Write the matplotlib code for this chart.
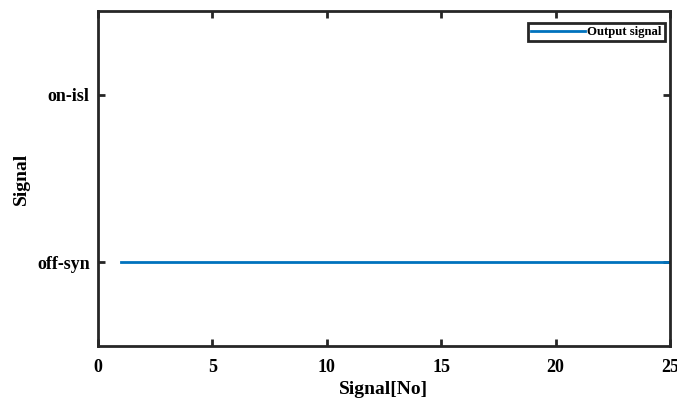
import matplotlib.pyplot as plt

# output signal state per sample (1 = off-syn, 2 = on-isl)
samples = [1, 2, 3, 4, 5, 6, 7, 8, 9, 10, 11, 12, 13, 14, 15, 16, 17, 18, 19, 20, 21, 22, 23, 24, 25]
states = [1, 1, 1, 1, 1, 1, 1, 1, 1, 1, 1, 1, 1, 1, 1, 1, 1, 1, 1, 1, 1, 1, 1, 1, 1]
state_ticks = [1, 2]
state_labels = ['off-syn', 'on-isl']
x_ticks = [0, 5, 10, 15, 20, 25]

plt.rcParams['font.family'] = ['Liberation Serif', 'DejaVu Serif']
plt.rcParams['font.weight'] = 'bold'

fig = plt.figure(figsize=(6.77, 4.03), dpi=100)
ax = fig.add_axes([98 / 677, 1 - 346 / 403, 572 / 677, 335 / 403])

ax.plot(samples, states, color='#0072BD', linewidth=2, label='Output signal')

ax.set_xlim(0, 25)
ax.set_ylim(0.5, 2.5)
ax.set_xticks(x_ticks)
ax.set_yticks(state_ticks)
ax.set_yticklabels(state_labels)
ax.tick_params(axis='both', direction='in', length=5, width=2, top=True, right=True,
               labelsize=13, colors='#262626', labelcolor='black')
ax.tick_params(axis='x', pad=9)
ax.tick_params(axis='y', pad=6)
for lab in ax.get_xticklabels() + ax.get_yticklabels():
    lab.set_fontweight('bold')
for s in ax.spines.values():
    s.set_linewidth(2)
    s.set_color('#262626')

ax.set_xlabel('Signal[No]', fontsize=14, fontweight='bold', labelpad=4)
ax.set_ylabel('Signal', fontsize=14, fontweight='bold', labelpad=5)

leg = ax.legend(loc='upper right', prop={'weight': 'bold', 'size': 9.2},
                fancybox=False, framealpha=1, edgecolor='#262626',
                handlelength=4.2, borderpad=0.25, handletextpad=0.2,
                borderaxespad=0, bbox_to_anchor=(0.991, 0.964))
leg.get_frame().set_linewidth(2)

fig.savefig('out.png', dpi=100)
